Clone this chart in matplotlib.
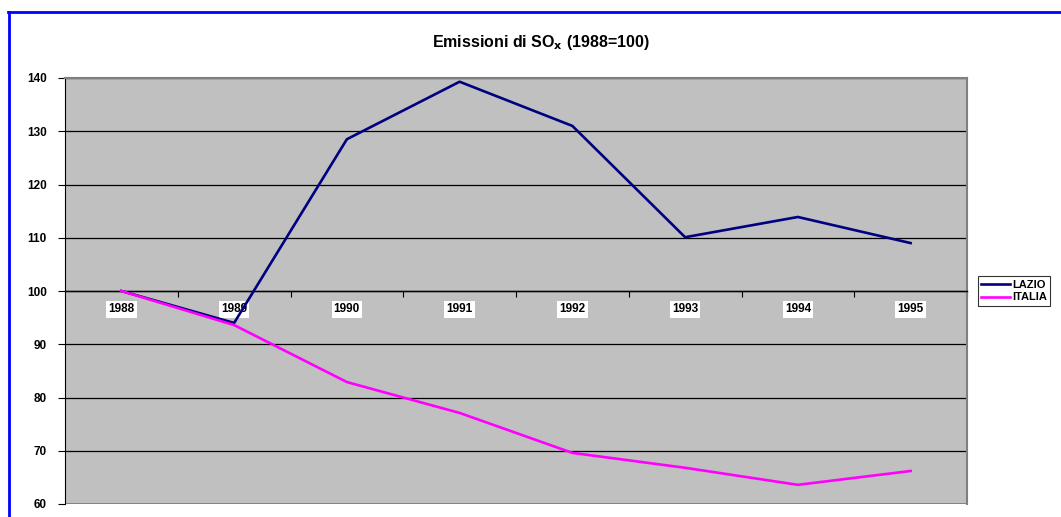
import matplotlib.pyplot as plt
from matplotlib.lines import Line2D

anni = ["1988", "1989", "1990", "1991", "1992", "1993", "1994", "1995"]
lazio = [100, 94.0, 128.5, 139.3, 131.0, 110.1, 113.9, 109.0]
italia = [100, 93.6, 82.9, 77.1, 69.6, 66.8, 63.6, 66.2]

plt.rcParams['font.family'] = ['Liberation Sans', 'DejaVu Sans']

fig = plt.figure(figsize=(10.61, 5.17), dpi=100)
ax = fig.add_axes([65 / 1061, 13 / 517, 902 / 1061, 426 / 517])
ax.set_facecolor('#C0C0C0')

x = range(len(anni))
ax.plot(x, lazio, color='#000080', linewidth=1.9, label='LAZIO', zorder=3)
ax.plot(x, italia, color='#FF00FF', linewidth=1.9, label='ITALIA', zorder=3)

ax.set_xlim(-0.5, len(anni) - 0.5)
ax.set_ylim(60, 140)
ax.set_yticks(range(60, 141, 10))
ax.tick_params(axis='y', labelsize=8.5, length=5, width=0.8, pad=8)
for lab in ax.get_yticklabels():
    lab.set_fontweight('bold')
ax.grid(axis='y', color='black', linewidth=0.9)
ax.set_axisbelow(True)

# asse x che incrocia a 100
ax.spines['bottom'].set_position(('data', 100))
ax.spines['bottom'].set_linewidth(1.0)
ax.set_xticks(list(x))
ax.set_xticklabels(anni, fontsize=8.5, fontweight='bold')
ax.set_xticks([i + 0.5 for i in range(len(anni))], minor=True)
ax.tick_params(axis='x', which='major', length=0, pad=9)
ax.tick_params(axis='x', which='minor', length=4, width=0.8, direction='out')
for lab in ax.get_xticklabels():
    lab.set_bbox(dict(facecolor='white', edgecolor='none', pad=1.5))

ax.spines['left'].set_color('black')
for s in ['top', 'right']:
    ax.spines[s].set_color('#808080')
    ax.spines[s].set_linewidth(1.5)

# bordo inferiore dell'area del grafico
ax.axhline(60, color='#808080', linewidth=2, zorder=1)

ax.set_title("Emissioni di SO$_{\\mathbf{x}}$ (1988=100)", fontsize=11.5,
             fontweight='bold', pad=22, x=0.528)

leg = ax.legend(loc='center left', bbox_to_anchor=(1.012, 0.5), fontsize=8,
                frameon=True, fancybox=False, edgecolor='black',
                handlelength=2.6, handletextpad=0.2, borderpad=0.3,
                labelspacing=0.25, borderaxespad=0)
for t in leg.get_texts():
    t.set_fontweight('bold')
leg.get_frame().set_linewidth(0.8)

# cornice blu
fig.add_artist(Line2D([9 / 1061, 9 / 1061], [0, 1 - 12 / 517], color='#0000FF',
                      linewidth=2, transform=fig.transFigure))
fig.add_artist(Line2D([8 / 1061, 1], [1 - 12 / 517, 1 - 12 / 517], color='#0000FF',
                      linewidth=2, transform=fig.transFigure))

plt.savefig("out.png", dpi=100)
plt.close()
